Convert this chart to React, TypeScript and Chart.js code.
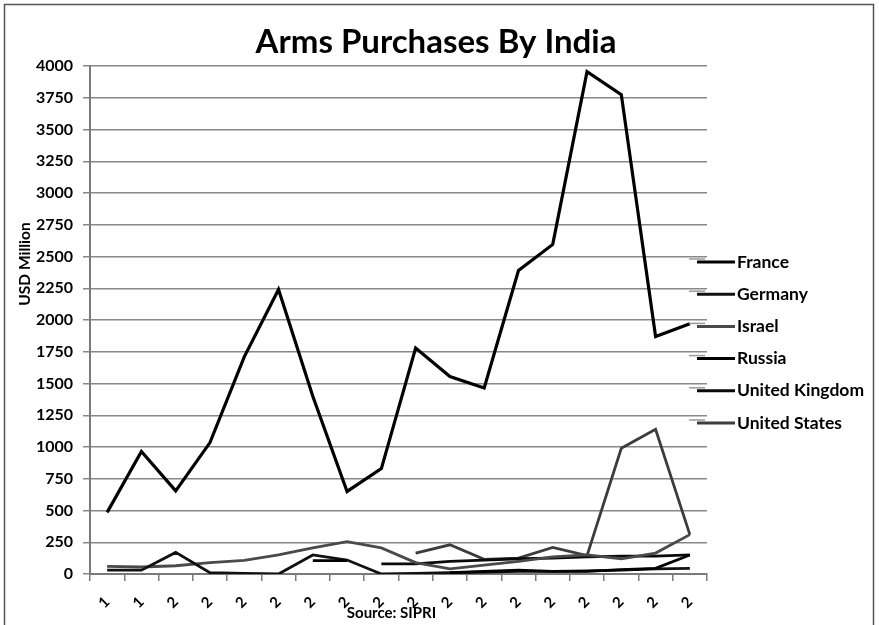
import React, { useEffect, useRef } from "react";
import { Chart, registerables } from "chart.js";

Chart.register(...registerables);

const yearLabels = ["1", "1", "2", "2", "2", "2", "2", "2", "2", "2", "2", "2", "2", "2", "2", "2", "2", "2"];

const seriesNames = ["France", "Germany", "Israel", "Russia", "United Kingdom", "United States"];
const seriesColors = ["#000000", "#111111", "#4a4a4a", "#000000", "#0a0a0a", "#3c3c3c"];

const france = [null, null, null, null, null, null, 105, 105, null, null, 10, 20, 30, 20, 20, 35, 45, 150];
const germany = [30, 30, 170, 10, 5, 0, 150, 110, 0, 5, 10, 15, 20, 20, 25, 30, 40, 45];
const israel = [60, 55, 65, 90, 107, 150, 205, 255, 205, 90, 40, 70, 100, 135, 150, 120, 165, 310];
const russia = [485, 965, 655, 1035, 1710, 2240, 1400, 650, 830, 1780, 1555, 1465, 2390, 2595, 3955, 3775, 1870, 1970];
const unitedKingdom = [null, null, null, null, null, null, null, null, 80, 80, 100, 110, 120, 125, 135, 140, 140, 150];
const unitedStates = [null, null, null, null, null, null, null, null, null, 165, 230, 115, 125, 210, 145, 990, 1140, 310];

const yMin = 0;
const yMax = 4000;
const yStep = 250;

const chartTitle = "Arms Purchases By India";
const yTitle = "USD Million";
const xTitle = "Source: SIPRI";

const FONT = "Lato, 'Open Sans', 'DejaVu Sans', sans-serif";

export default function App() {
  const ref = useRef<HTMLCanvasElement | null>(null);

  useEffect(() => {
    const canvas = ref.current;
    if (!canvas) return;
    const allSeries = [france, germany, israel, russia, unitedKingdom, unitedStates];

    const overlay = {
      id: "overlay",
      afterDraw(chart: any) {
        const ctx = chart.ctx;
        const area = chart.chartArea;
        ctx.save();
        ctx.strokeStyle = "#555";
        ctx.lineWidth = 1.5;
        ctx.strokeRect(4.5, 4.5, 869, 700);
        ctx.fillStyle = "#000";
        ctx.font = `bold 33px ${FONT}`;
        ctx.textAlign = "center";
        ctx.textBaseline = "alphabetic";
        ctx.fillText(chartTitle, 436, 53);
        ctx.save();
        ctx.translate(25, 264);
        ctx.rotate(-Math.PI / 2);
        ctx.font = `bold 15.5px ${FONT}`;
        ctx.textAlign = "center";
        ctx.textBaseline = "middle";
        ctx.fillText(yTitle, 0, 0);
        ctx.restore();
        ctx.font = `bold 15px ${FONT}`;
        ctx.textAlign = "center";
        ctx.textBaseline = "alphabetic";
        ctx.fillText(xTitle, (area.left + area.right) / 2 - 7, 618);
        const ds = chart.data.datasets;
        for (let i = 0; i < ds.length; i++) {
          const y = 262 + i * 32.2;
          ctx.strokeStyle = "#9a9a9a";
          ctx.lineWidth = 1.5;
          ctx.beginPath();
          ctx.moveTo(689, y - 3);
          ctx.lineTo(705, y - 3);
          ctx.stroke();
          ctx.strokeStyle = ds[i].borderColor;
          ctx.lineWidth = 3;
          ctx.beginPath();
          ctx.moveTo(697, y);
          ctx.lineTo(735, y);
          ctx.stroke();
          ctx.fillStyle = "#000";
          ctx.font = `bold 17.5px ${FONT}`;
          ctx.textAlign = "left";
          ctx.textBaseline = "middle";
          ctx.fillText(ds[i].label, 737, y);
        }
        ctx.restore();
      },
    };

    const chart = new Chart(canvas, {
      type: "line",
      data: {
        labels: yearLabels,
        datasets: seriesNames.map((name, i) => ({
          label: name,
          data: allSeries[i],
          borderColor: seriesColors[i],
          backgroundColor: seriesColors[i],
          borderWidth: i === 3 ? 3.2 : 2.8,
          pointRadius: 0,
          tension: 0,
          spanGaps: false,
        })),
      },
      options: {
        animation: false,
        responsive: false,
        maintainAspectRatio: false,
        layout: { padding: { left: 30, top: 66, right: 172, bottom: 0 } },
        plugins: {
          legend: { display: false },
          title: { display: false },
          tooltip: { enabled: false },
        },
        scales: {
          x: {
            offset: true,
            grid: {
              offset: true,
              drawOnChartArea: false,
              drawTicks: true,
              tickLength: 7,
              color: "#7a7a7a",
              lineWidth: 1.5,
            },
            border: { color: "#7a7a7a", width: 2 },
            ticks: {
              autoSkip: false,
              minRotation: 45,
              maxRotation: 45,
              padding: 12,
              color: "#000",
              font: { family: FONT, weight: "bold", size: 15 },
            },
            afterFit: (s: any) => {
              s.height = 51;
            },
          },
          y: {
            min: yMin,
            max: yMax,
            ticks: {
              stepSize: yStep,
              padding: 10,
              color: "#000",
              font: { family: FONT, weight: "bold", size: 16 },
              callback: (v: any) => String(v),
            },
            grid: { color: "#888888", lineWidth: 1.5, tickLength: 7 },
            border: { color: "#7a7a7a", width: 2 },
            afterFit: (s: any) => {
              s.width = 60;
            },
          },
        },
      },
      plugins: [overlay],
    });
    return () => chart.destroy();
  }, []);

  return (
    <div style={{ position: "fixed", left: 0, top: 0, width: 879, height: 625, overflow: "hidden", background: "#fff" }}>
      <canvas ref={ref} width={879} height={625} style={{ display: "block", width: 879, height: 625 }} />
    </div>
  );
}
